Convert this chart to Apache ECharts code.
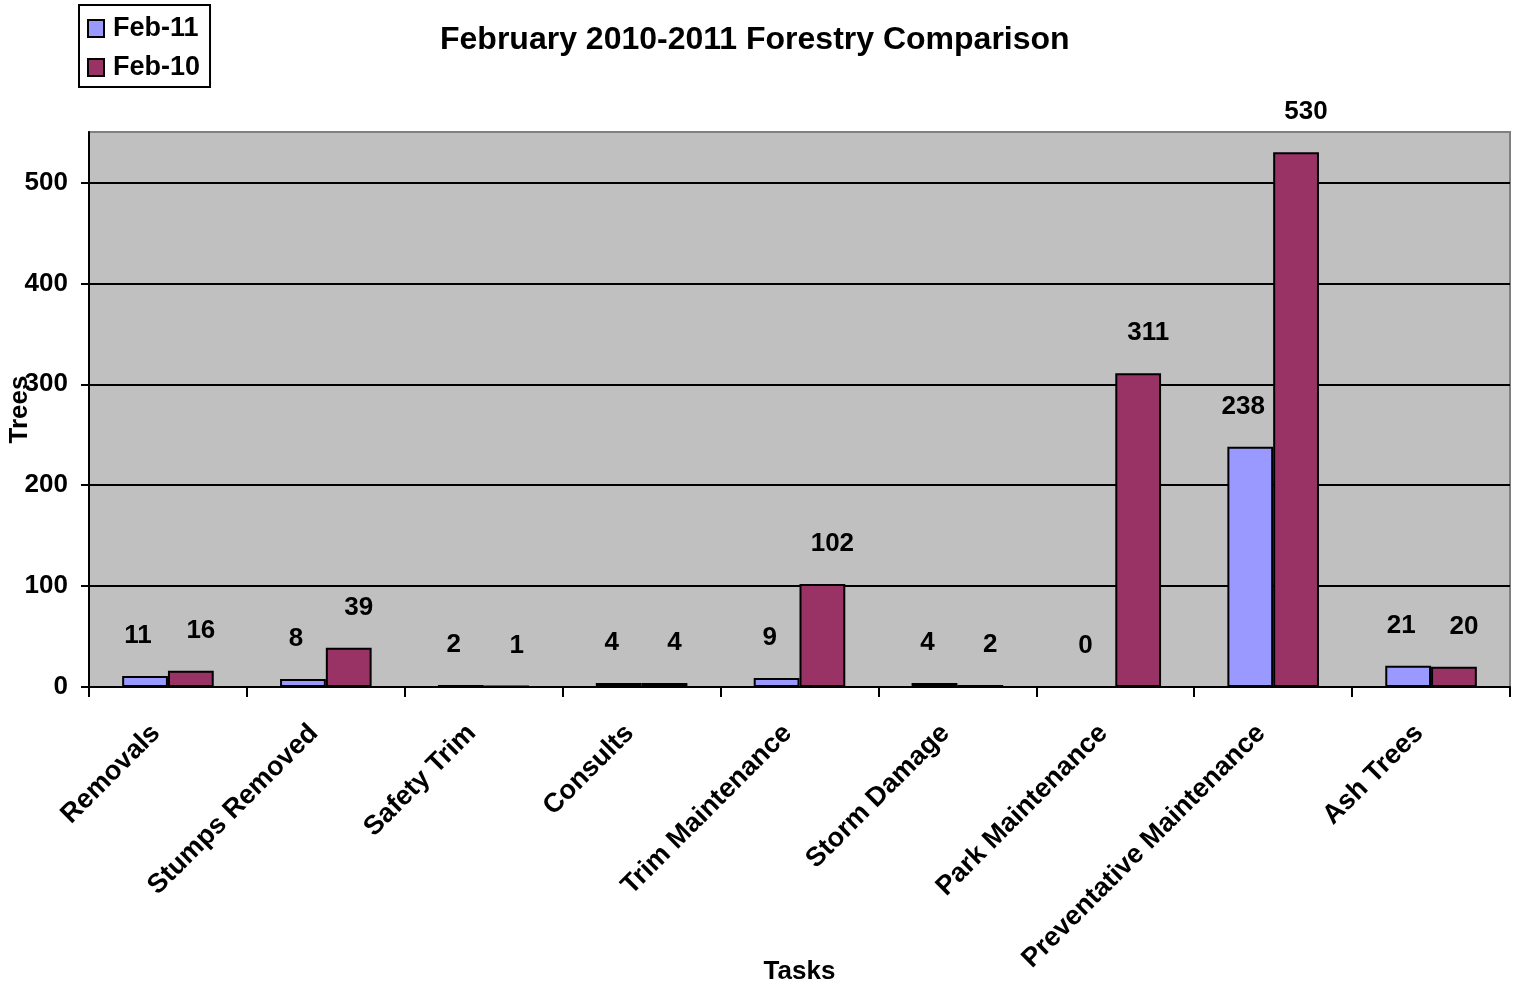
<!DOCTYPE html>
<html>
<head>
<meta charset="utf-8">
<title>February 2010-2011 Forestry Comparison</title>
<script src="https://cdn.jsdelivr.net/npm/echarts@6/dist/echarts.min.js"></script>
<style>
  html, body { margin: 0; padding: 0; background: #fff; }
  #chart { width: 1522px; height: 986px; }
</style>
</head>
<body>
<div id="chart"></div>
<script>
// Task categories and monthly counts of trees handled
const tasks = [
  'Removals', 'Stumps Removed', 'Safety Trim', 'Consults', 'Trim Maintenance',
  'Storm Damage', 'Park Maintenance', 'Preventative Maintenance', 'Ash Trees'
];
const feb11 = [11, 8, 2, 4, 9, 4, 0, 238, 21];
const feb10 = [16, 39, 1, 4, 102, 2, 311, 530, 20];
const seriesNames = ['Feb-11', 'Feb-10'];

const FONT = '"Liberation Sans", Arial, sans-serif';
const chart = echarts.init(document.getElementById('chart'), null, { renderer: 'canvas' });

const labelStyle = (dx) => ({
  show: true,
  position: 'top',
  distance: 27,
  offset: [dx, 0],
  fontFamily: FONT,
  fontWeight: 'bold',
  fontSize: 26,
  color: '#000'
});

chart.setOption({
  animation: false,
  backgroundColor: '#ffffff',
  title: {
    text: 'February 2010-2011 Forestry Comparison',
    left: 435,
    top: 19,
    textStyle: { fontFamily: FONT, fontWeight: 'bold', fontSize: 32, color: '#000' }
  },
  legend: {
    orient: 'vertical',
    left: 79,
    top: 5,
    padding: [10, 10, 6, 8],
    itemGap: 12,
    itemWidth: 16,
    itemHeight: 17,
    borderColor: '#000',
    borderWidth: 2,
    icon: 'rect',
    data: seriesNames,
    textStyle: { fontFamily: FONT, fontWeight: 'bold', fontSize: 27, color: '#000', padding: [0, 0, 0, 4] }
  },
  grid: {
    left: 89,
    right: 12,
    top: 132,
    bottom: 299,
    show: true,
    backgroundColor: '#c0c0c0',
    borderColor: '#808080',
    borderWidth: 2,
    containLabel: false,
    outerBoundsMode: 'none'
  },
  xAxis: {
    type: 'category',
    data: tasks,
    name: 'Tasks',
    nameLocation: 'middle',
    nameGap: 272,
    nameMoveOverlap: false,
    nameTextStyle: { fontFamily: FONT, fontWeight: 'bold', fontSize: 26, color: '#000' },
    axisLine: { show: true, lineStyle: { color: '#000', width: 2 } },
    axisTick: { show: true, length: 10, lineStyle: { color: '#000', width: 2 } },
    axisLabel: {
      rotate: 45,
      interval: 0,
      margin: 30,
      padding: [0, 17, 0, 0],
      fontFamily: FONT,
      fontWeight: 'bold',
      fontSize: 27,
      color: '#000'
    },
    splitLine: { show: false }
  },
  yAxis: {
    type: 'value',
    min: 0,
    max: 550,
    interval: 100,
    name: 'Trees',
    nameLocation: 'middle',
    nameGap: 56,
    nameRotate: 90,
    nameMoveOverlap: false,
    nameTextStyle: { fontFamily: FONT, fontWeight: 'bold', fontSize: 26, color: '#000' },
    axisLine: { show: true, lineStyle: { color: '#000', width: 2 } },
    axisTick: { show: true, length: 8, lineStyle: { color: '#000', width: 2 } },
    axisLabel: {
      showMaxLabel: false,
      margin: 21,
      fontFamily: FONT,
      fontWeight: 'bold',
      fontSize: 26,
      color: '#000'
    },
    splitLine: {
      show: true,
      lineStyle: {
        color: ['#000', '#000', '#000', '#000', '#000', '#000', '#808080'],
        width: 2
      }
    }
  },
  series: [
    {
      name: seriesNames[0],
      type: 'bar',
      data: feb11,
      barGap: '0%',
      barCategoryGap: '42%',
      itemStyle: { color: '#9999ff', borderColor: '#000', borderWidth: 2 },
      label: labelStyle(-7)
    },
    {
      name: seriesNames[1],
      type: 'bar',
      data: feb10,
      barGap: '0%',
      barCategoryGap: '42%',
      itemStyle: { color: '#993366', borderColor: '#000', borderWidth: 2 },
      label: labelStyle(10)
    }
  ]
});
</script>
</body>
</html>
